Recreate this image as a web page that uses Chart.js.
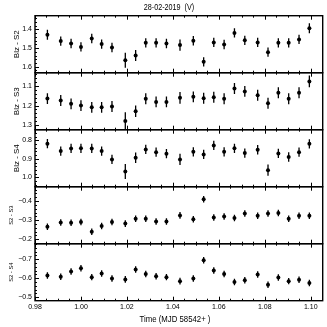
<!DOCTYPE html>
<html>
<head>
<meta charset="utf-8">
<script src="https://cdn.jsdelivr.net/npm/chart.js@4.4.1/dist/chart.umd.min.js"></script>
<style>
  html, body { margin: 0; padding: 0; background: #fff; }
</style>
</head>
<body>
<canvas id="lc" width="327" height="327"></canvas>
<script>
// time of each frame, MJD - 58542
const times = [0.9854, 0.9912, 0.9957, 1.0000, 1.0047, 1.0090, 1.0135, 1.0193, 1.0238, 1.0282,
  1.0327, 1.0372, 1.0431, 1.0489, 1.0534, 1.0578, 1.0623, 1.0668, 1.0713, 1.0769,
  1.0814, 1.0859, 1.0904, 1.0949, 1.0994];

// differential magnitudes
const blzS2 = [1.429, 1.463, 1.476, 1.494, 1.449, 1.479, 1.497, 1.565, 1.540, 1.472,
  1.472, 1.476, 1.484, 1.461, 1.574, 1.470, 1.481, 1.419, 1.459, 1.470,
  1.522, 1.472, 1.472, 1.454, 1.394];
const blzS3 = [1.164, 1.174, 1.191, 1.200, 1.209, 1.209, 1.205, 1.279, 1.229, 1.165,
  1.181, 1.181, 1.160, 1.155, 1.162, 1.157, 1.165, 1.112, 1.127, 1.147,
  1.188, 1.134, 1.165, 1.134, 1.076];
const blzS4 = [0.818, 0.858, 0.844, 0.843, 0.844, 0.858, 0.903, 0.968, 0.894, 0.849,
  0.864, 0.872, 0.903, 0.862, 0.876, 0.828, 0.862, 0.843, 0.869, 0.851,
  0.961, 0.871, 0.890, 0.864, 0.819];
const s2S3 = [-0.265, -0.288, -0.286, -0.291, -0.240, -0.270, -0.291, -0.282, -0.307, -0.307,
  -0.293, -0.293, -0.325, -0.305, -0.409, -0.314, -0.319, -0.311, -0.335, -0.323,
  -0.335, -0.338, -0.307, -0.323, -0.323];
const s2S4 = [-0.615, -0.608, -0.636, -0.653, -0.606, -0.625, -0.599, -0.594, -0.646, -0.623,
  -0.611, -0.606, -0.585, -0.599, -0.695, -0.641, -0.622, -0.580, -0.590, -0.620,
  -0.566, -0.604, -0.585, -0.592, -0.575];

// errors
const blzS2Err = [0.027, 0.025, 0.025, 0.025, 0.025, 0.025, 0.025, 0.040, 0.030, 0.025,
  0.025, 0.025, 0.030, 0.025, 0.025, 0.025, 0.025, 0.025, 0.025, 0.025,
  0.025, 0.025, 0.025, 0.025, 0.027];
const blzS3Err = [0.028, 0.028, 0.028, 0.028, 0.028, 0.028, 0.028, 0.045, 0.030, 0.028,
  0.028, 0.028, 0.030, 0.028, 0.028, 0.028, 0.028, 0.028, 0.028, 0.028,
  0.028, 0.028, 0.028, 0.028, 0.030];
const blzS4Err = [0.025, 0.025, 0.025, 0.025, 0.025, 0.025, 0.025, 0.040, 0.028, 0.025,
  0.025, 0.025, 0.030, 0.025, 0.025, 0.025, 0.025, 0.025, 0.025, 0.025,
  0.030, 0.025, 0.025, 0.025, 0.025];
const s2S3Err = [0.017, 0.017, 0.017, 0.017, 0.017, 0.017, 0.017, 0.018, 0.017, 0.017,
  0.017, 0.017, 0.018, 0.017, 0.017, 0.017, 0.017, 0.017, 0.017, 0.017,
  0.017, 0.017, 0.017, 0.017, 0.017];
const s2S4Err = [0.017, 0.017, 0.017, 0.017, 0.017, 0.017, 0.017, 0.018, 0.017, 0.017,
  0.017, 0.017, 0.018, 0.017, 0.017, 0.017, 0.017, 0.017, 0.017, 0.017,
  0.017, 0.017, 0.017, 0.017, 0.017];

const panelNames = ["Blz - S2", "Blz - S3", "Blz - S4", "S2 - S3", "S2 - S4"];
const xTicks = [0.98, 1.00, 1.02, 1.04, 1.06, 1.08, 1.10];
const yTicks = [
  [1.4, 1.5, 1.6],
  [1.1, 1.2, 1.3],
  [0.8, 0.9, 1.0],
  [-0.4, -0.3, -0.2],
  [-0.7, -0.6, -0.5]
];

const F = "'Liberation Sans', 'DejaVu Sans', sans-serif";
Chart.defaults.font.family = F;
Chart.defaults.color = '#000';

const series = [blzS2, blzS3, blzS4, s2S3, s2S4];
const errs = [blzS2Err, blzS3Err, blzS4Err, s2S3Err, s2S4Err];
const ranges = [[1.327, 1.632], [1.031, 1.324], [0.743, 1.050], [-0.475, -0.177], [-0.782, -0.482]];
const ids = ['y1', 'y2', 'y3', 'y4', 'y5'];
const labelSize = [8, 8, 8, 5.8, 5.8];
const labelX = [17, 17, 17, 11.5, 11.5];

const fmt = v => v.toFixed(1).replace('-', '\u2212');

const scales = {
  x: {
    type: 'linear', min: 0.98, max: 1.1052,
    grid: { display: false, drawTicks: false }, border: { display: false },
    afterBuildTicks: s => { s.ticks = xTicks.map(v => ({ value: v })); },
    ticks: { font: { size: 7 }, padding: 2, autoSkip: false, maxRotation: 0,
      callback: v => v.toFixed(2) },
    afterFit: s => { s.height = 26.3; }
  }
};
ids.forEach((id, k) => {
  scales[id] = {
    type: 'linear', position: 'left', stack: 'lc', stackWeight: 1, weight: 5 - k,
    reverse: true, min: ranges[k][0], max: ranges[k][1],
    grid: { display: false, drawTicks: false }, border: { display: false },
    afterBuildTicks: s => { s.ticks = yTicks[k].map(v => ({ value: v })); },
    ticks: { font: { size: 7 }, padding: 3, callback: fmt },
    afterFit: s => { s.width = 35; }
  };
});

// squeezed text, like the narrow lettering of the original
function squeezed(ctx, text, x, y, size, sx) {
  ctx.save();
  ctx.translate(x, y);
  ctx.scale(sx, 1);
  ctx.font = size + 'px ' + F;
  ctx.textAlign = 'center';
  ctx.textBaseline = 'middle';
  ctx.fillText(text, 0, 0);
  ctx.restore();
}

const frame = {
  id: 'frame',
  beforeDatasetsDraw(chart) {
    const ctx = chart.ctx, ca = chart.chartArea;
    ctx.save();
    ctx.strokeStyle = '#000';
    ctx.lineWidth = 1.3;
    chart.data.datasets.forEach((ds, i) => {
      const meta = chart.getDatasetMeta(i);
      const ys = chart.scales[ds.yAxisID];
      ctx.save();
      ctx.beginPath();
      ctx.rect(ca.left, ys.top, ca.right - ca.left, ys.bottom - ys.top);
      ctx.clip();
      meta.data.forEach((pt, j) => {
        const v = ds.data[j].y, e = ds.err[j];
        ctx.beginPath();
        ctx.moveTo(pt.x, ys.getPixelForValue(v - e));
        ctx.lineTo(pt.x, ys.getPixelForValue(v + e));
        ctx.stroke();
      });
      ctx.restore();
    });
    ctx.restore();
  },
  afterDraw(chart) {
    const ctx = chart.ctx, ca = chart.chartArea, xs = chart.scales.x;
    const L = ca.left, R = ca.right;
    ctx.save();
    ctx.strokeStyle = '#000';
    ctx.fillStyle = '#000';
    const seg = (x1, y1, x2, y2) => { ctx.beginPath(); ctx.moveTo(x1, y1); ctx.lineTo(x2, y2); ctx.stroke(); };
    ids.forEach((id, k) => {
      const ys = chart.scales[id];
      const T = ys.top, B = ys.bottom;
      ctx.lineWidth = 1;
      for (let m = 0; m <= 25; m++) {
        const v = 0.98 + m * 0.005;
        if (v > xs.max) break;
        const px = Math.round(xs.getPixelForValue(v)) + 0.5;
        const len = m % 4 === 0 ? 4 : 2;
        seg(px, T, px, T + len);
        seg(px, B, px, B - len);
      }
      const lo = Math.min(ys.min, ys.max), hi = Math.max(ys.min, ys.max);
      for (let n = Math.ceil(lo / 0.02 - 1e-6); n * 0.02 <= hi + 1e-9; n++) {
        const v = n * 0.02;
        const py = Math.round(ys.getPixelForValue(v)) + 0.5;
        const major = Math.abs(n % 5) === 0;
        seg(L, py, L + (major ? 4 : 2), py);
      }
      ctx.lineWidth = 1.4;
      ctx.strokeRect(L, T, R - L, B - T);
      ctx.save();
      ctx.translate(labelX[k], (T + B) / 2);
      ctx.rotate(-Math.PI / 2);
      ctx.font = labelSize[k] + 'px ' + F;
      ctx.textAlign = 'center';
      ctx.textBaseline = 'middle';
      ctx.fillText(panelNames[k], 0, 0);
      ctx.restore();
    });
    squeezed(ctx, '28-02-2019  (V)', 169, 7.5, 9, 0.8);
    squeezed(ctx, 'Time (MJD 58542+ )', 175, 319, 9.5, 0.82);
    ctx.restore();
  }
};

new Chart(document.getElementById('lc'), {
  type: 'scatter',
  data: {
    datasets: ids.map((id, k) => ({
      label: panelNames[k],
      yAxisID: id,
      data: times.map((t, j) => ({ x: t, y: series[k][j] })),
      err: errs[k],
      pointRadius: 2,
      pointBackgroundColor: '#000',
      pointBorderWidth: 0
    }))
  },
  options: {
    responsive: false,
    animation: false,
    layout: { padding: { top: 15.7, right: 4.3, left: 0, bottom: 0 } },
    plugins: { legend: { display: false }, tooltip: { enabled: false } },
    scales: scales
  },
  plugins: [frame]
});
</script>
</body>
</html>
